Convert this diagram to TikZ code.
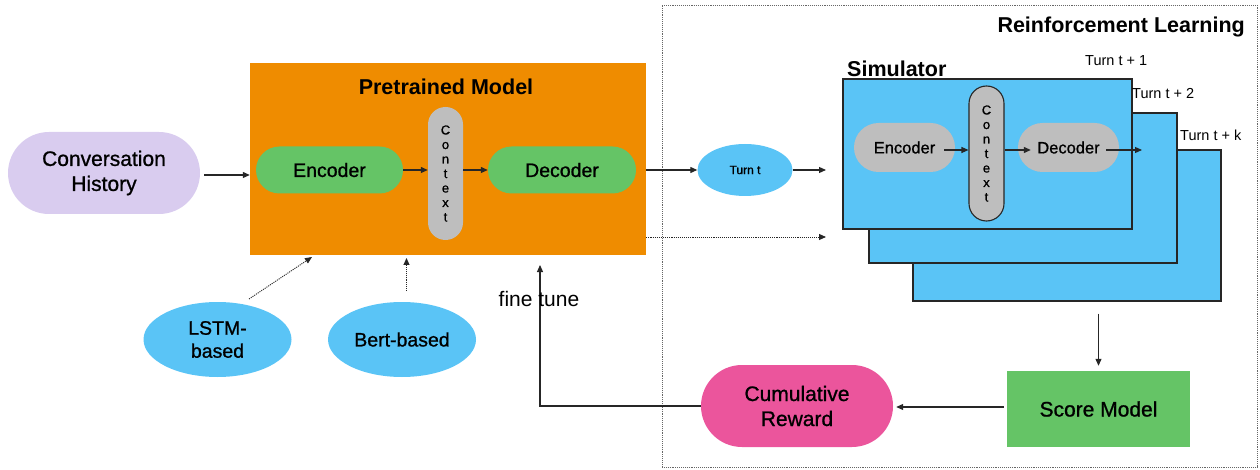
\documentclass[tikz,border=0pt]{standalone}
\usepackage{fontspec}
\setmainfont{Liberation Sans}
\newfontfamily\medfont{Liberation Sans}[FakeBold=0.9]
\usetikzlibrary{arrows.meta,shapes.geometric}
\definecolor{lav}{HTML}{D9CCEF}
\definecolor{orng}{HTML}{EF8C00}
\definecolor{grn}{HTML}{65C466}
\definecolor{gry}{HTML}{BEBEBE}
\definecolor{blu}{HTML}{5AC4F6}
\definecolor{pnk}{HTML}{EB559C}
\begin{document}
\begin{tikzpicture}[x=1pt,y=-1pt,
  arr/.style={-{Triangle[length=7pt,width=6pt]}, line width=1.1pt, draw=black!85},
  darr/.style={arr, densely dotted, line width=0.9pt},
  box/.style={inner sep=0pt, align=center},
  big/.style={font=\medfont\fontsize{21}{25}\selectfont},
  bigb/.style={font=\bfseries\fontsize{21.5}{25}\selectfont},
  mid/.style={font=\medfont\fontsize{19.5}{23}\selectfont},
  small/.style={font=\medfont\fontsize{16.5}{20}\selectfont},
  letters/.style={box, font=\medfont\fontsize{13}{14.5}\selectfont},
  turnlbl/.style={anchor=west, inner sep=0pt, font=\fontsize{14.5}{16}\selectfont},
  simrect/.style={box, fill=blu, draw=black!85, line width=1.1pt}]
\useasboundingbox (0,0) rectangle (1260,470);

% left part
\node[box, big, fill=lav, minimum width=192pt, minimum height=82pt, rounded corners=41pt] (conv) at (104,173) {Conversation\\History};
\node[box, fill=orng, minimum width=396pt, minimum height=192pt] (pre) at (448,159) {};
\node[box, bigb] (pretitle) at (446,87) {Pretrained Model};
\node[box, mid, fill=grn, minimum width=147pt, minimum height=47pt, rounded corners=23.5pt] (enc) at (329.5,170) {Encoder};
\node[letters, fill=gry, minimum width=35pt, minimum height=133pt, rounded corners=17.5pt] (ctx) at (445.5,173.5) {C\\o\\n\\t\\e\\x\\t};
\node[box, mid, fill=grn, minimum width=148pt, minimum height=47pt, rounded corners=23.5pt] (dec) at (562,170) {Decoder};

\draw[arr] ([xshift=4pt]conv.east |- 0,175) -- (pre.west |- 0,175);
\draw[arr] (enc.east) -- (enc.east -| ctx.west);
\draw[arr] (ctx.east |- dec) -- (dec.west);

\node[box, mid, ellipse, fill=blu, minimum width=148pt, minimum height=75pt] (lstm) at (217.5,339.5) {LSTM-\\based};
\node[box, mid, ellipse, fill=blu, minimum width=148pt, minimum height=75pt] (bert) at (402,339.5) {Bert-based};
\coordinate (lstmtip) at (312,257);
\coordinate (berttip) at (406.5,258);
\draw[darr] (249,299) -- (lstmtip);
\draw[darr] (406.5,291) -- (berttip);

% RL box
\node[box, draw=black!60, densely dotted, line width=0.9pt, minimum width=595pt, minimum height=462pt] (rl) at (959.5,236) {};
\node[inner sep=0pt, anchor=east, bigb] (rltitle) at (1245,27) {Reinforcement Learning};

\node[box, ellipse, fill=blu, minimum width=95pt, minimum height=52pt, font=\medfont\fontsize{12}{14}\selectfont] (turnt) at (745,170) {Turn t};
\coordinate (tend) at (826,170);
\coordinate (dend) at (826,237);
\draw[arr] (pre.east |- turnt) -- (turnt.west);
\draw[arr] (turnt.east) -- (tend);
\draw[darr] (pre.east |- dend) -- (dend);

% simulator stack
\node[simrect, minimum width=308pt, minimum height=151pt] (sim3) at (1067,225.5) {};
\node[simrect, minimum width=308pt, minimum height=150pt] (sim2) at (1023,188) {};
\node[simrect, minimum width=289pt, minimum height=150pt] (sim1) at (987.5,154) {};
\node[inner sep=0pt, anchor=west, bigb] (simtitle) at (847,69) {Simulator};
\node[turnlbl] (t1) at (1085,61) {Turn t + 1};
\node[turnlbl] (t2) at (1132,94) {Turn t + 2};
\node[turnlbl] (tk) at (1180,135) {Turn t + k};

\node[box, small, fill=gry, minimum width=101pt, minimum height=49pt, rounded corners=24.5pt] (senc) at (904.5,147.5) {Encoder};
\node[letters, fill=gry, draw=black!85, line width=1.1pt, minimum width=35pt, minimum height=135pt, rounded corners=17.5pt] (sctx) at (986.5,153.5) {C\\o\\n\\t\\e\\x\\t};
\node[box, small, fill=gry, minimum width=101pt, minimum height=49pt, rounded corners=24.5pt] (sdec) at (1068.5,147.5) {Decoder};
\coordinate (sout) at (1142,150);
\draw[arr] ([xshift=-11pt]senc.east |- 0,150) -- (sctx.west |- 0,150);
\draw[arr] (sctx.east |- 0,150) -- ([xshift=13pt]sdec.west |- 0,150);
\draw[arr] ([xshift=-13pt]sdec.east |- 0,150) -- (sout);

% bottom
\node[box, big, fill=grn, minimum width=183pt, minimum height=76pt] (score) at (1098.5,409) {Score Model};
\node[box, big, fill=pnk, minimum width=192pt, minimum height=82pt, rounded corners=41pt] (cum) at (797,406) {Cumulative\\Reward};
\draw[arr] ([yshift=-12pt]sim3.south -| score) -- ([yshift=5pt]score.north);
\draw[arr] ([xshift=-3pt]score.west |- 0,407) -- ([xshift=3pt]cum.east |- 0,407);
\coordinate (ftip) at (540,265);
\draw[arr] (cum.west) -- (cum.west -| ftip) -- (ftip);
\node[inner sep=0pt, font=\fontsize{21}{25}\selectfont] (ft) at (539,299) {fine tune};
\end{tikzpicture}
\end{document}
